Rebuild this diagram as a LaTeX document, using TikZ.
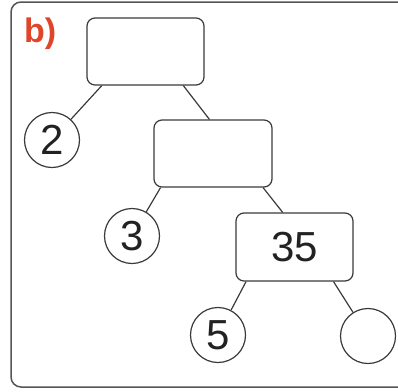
\documentclass[tikz,border=0pt]{standalone}
\usepackage{fontspec}
\setmainfont{Liberation Sans}
\usetikzlibrary{calc}
\definecolor{linegray}{HTML}{3A3A3A}
\definecolor{framegray}{HTML}{555555}
\definecolor{labelred}{HTML}{E0452A}
\definecolor{textdark}{HTML}{222222}
\tikzset{
  x=1pt, y=-1pt,
  factorbox/.style={draw=linegray, line width=1.2pt, rounded corners=8pt,
    minimum width=117pt, minimum height=67pt, inner sep=0pt,
    font=\fontsize{42}{42}\selectfont, text=textdark},
  factorcircle/.style={draw=linegray, line width=1.2pt, circle,
    minimum size=55pt, inner sep=0pt,
    font=\fontsize{42}{42}\selectfont, text=textdark},
  branch/.style={draw=linegray, line width=1.2pt}
}
\begin{document}
\begin{tikzpicture}
  \useasboundingbox (0,0) rectangle (398,391);
  \clip (0,0) rectangle (398,391);
  % outer frame, running off the right edge
  \draw[framegray, line width=1.5pt, rounded corners=10pt] (11,2) rectangle (430,387);
  \node[anchor=north west, inner sep=0pt, text=labelred,
        font=\fontsize{34}{34}\selectfont\bfseries] (lbl) at (24,18) {b)};

  % factor boxes
  \node[factorbox] (b1) at (145.5,51.5) {};
  \node[factorbox, minimum width=118pt] (b2) at (213,153.5) {};
  \node[factorbox, minimum height=68pt] (b3) at (294.5,247) {35};

  % factor circles
  \node[factorcircle] (c2) at (52,140) {2};
  \node[factorcircle] (c3) at (132,236) {3};
  \node[factorcircle] (c5) at (218,335) {5};
  \node[factorcircle] (c7) at (368,336) {};

  % branch start and end points on the boxes
  \coordinate (b1l) at ($(b1.south west)!0.13!(b1.south east)$);
  \coordinate (b1r) at ($(b1.south west)!0.82!(b1.south east)$);
  \coordinate (b2t) at ($(b2.north west)!0.47!(b2.north east)$);
  \coordinate (b2l) at ($(b2.south west)!0.06!(b2.south east)$);
  \coordinate (b2r) at ($(b2.south west)!0.92!(b2.south east)$);
  \coordinate (b3t) at ($(b3.north west)!0.40!(b3.north east)$);
  \coordinate (b3l) at ($(b3.south west)!0.09!(b3.south east)$);
  \coordinate (b3r) at ($(b3.south west)!0.83!(b3.south east)$);

  % branches
  \draw[branch] (b1l) -- (c2);
  \draw[branch] (b1r) -- (b2t);
  \draw[branch] (b2l) -- (c3);
  \draw[branch] (b2r) -- (b3t);
  \draw[branch] (b3l) -- (c5);
  \draw[branch] (b3r) -- (c7);
\end{tikzpicture}
\end{document}
